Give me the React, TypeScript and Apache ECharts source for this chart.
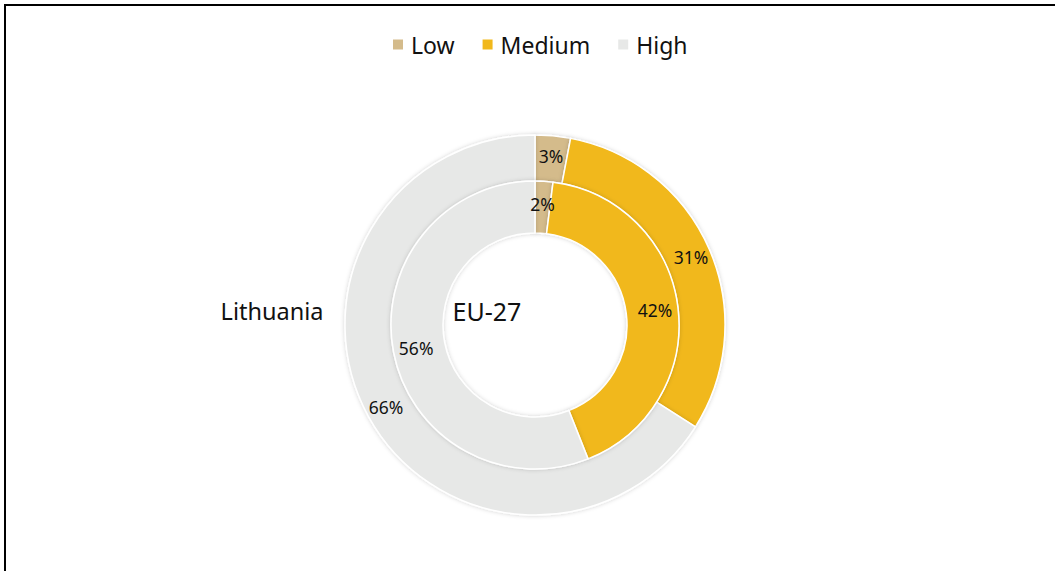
import React, { useEffect, useRef } from "react";
import * as echarts from "echarts";

const categories = ["Low", "Medium", "High"];
const seriesNames = ["Lithuania", "EU-27"];
const lithuaniaValues = [3, 31, 66];
const eu27Values = [2, 42, 56];
const colors = ["#D4BB8B", "#F1B81B", "#E7E8E7"];

const FONT = "'Noto Sans', 'Open Sans', sans-serif";

export default function App() {
  const ref = useRef<HTMLDivElement>(null);
  useEffect(() => {
    document.body.style.margin = "0";
    const chart = echarts.init(ref.current!, undefined, { renderer: "svg" });
    const mk = (vals: number[]) =>
      categories.map((c, i) => ({ name: c, value: vals[i], itemStyle: { color: colors[i] } }));
    const common = {
      type: "pie",
      center: [535, 325],
      startAngle: 90,
      clockwise: true,
      avoidLabelOverlap: false,
      emphasis: { disabled: true },
      labelLine: { show: false },
      label: {
        show: true,
        position: "inside",
        formatter: "{c}%",
        color: "#111111",
        fontSize: 17.5,
        fontFamily: FONT,
      },
      itemStyle: {
        borderColor: "#ffffff",
        borderWidth: 1.5,
        shadowBlur: 4,
        shadowColor: "rgba(0,0,0,0.18)",
      },
    };
    chart.setOption({
      animation: false,
      backgroundColor: "#ffffff",
      legend: {
        data: categories,
        left: 386,
        top: 28,
        icon: "rect",
        itemWidth: 12,
        itemHeight: 12,
        itemGap: 26,
        selectedMode: false,
        textStyle: { fontSize: 23, fontFamily: FONT, color: "#111", padding: [0, 0, 0, 2] },
      },
      graphic: [
        {
          type: "rect",
          shape: { x: 5, y: 5, width: 1200, height: 700 },
          style: { fill: "none", stroke: "#000", lineWidth: 2 },
          silent: true,
        },
        {
          type: "text",
          x: 272,
          y: 311,
          style: {
            text: seriesNames[0],
            fontSize: 23.5,
            fontFamily: FONT,
            fill: "#111",
            textAlign: "center",
            textVerticalAlign: "middle",
          },
        },
        {
          type: "text",
          x: 487,
          y: 311,
          style: {
            text: seriesNames[1],
            fontSize: 25,
            fontFamily: FONT,
            fill: "#111",
            textAlign: "center",
            textVerticalAlign: "middle",
          },
          z: 10,
        },
      ],
      series: [
        { ...common, name: seriesNames[0], radius: [144, 190], data: mk(lithuaniaValues) },
        { ...common, name: seriesNames[1], radius: [92, 144], data: mk(eu27Values) },
      ],
    });
    return () => chart.dispose();
  }, []);
  return (
    <div
      ref={ref}
      style={{ position: "absolute", left: 0, top: 0, width: 1055, height: 571 }}
    />
  );
}
